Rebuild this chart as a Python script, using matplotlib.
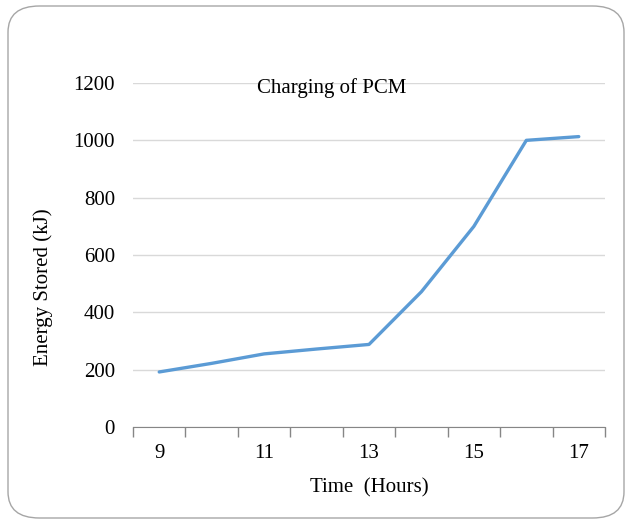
import matplotlib.pyplot as plt
from matplotlib.patches import FancyBboxPatch
import numpy as np

hours = [9, 10, 11, 12, 13, 14, 15, 16, 17]
energy_kj = [192, 222, 255, 272, 288, 472, 700, 1000, 1013]
y_ticks = [0, 200, 400, 600, 800, 1000, 1200]

plt.rcParams['font.family'] = 'Liberation Serif'
fs = 15

fig = plt.figure(figsize=(6.29, 5.24), dpi=100)
ax = fig.add_axes([133 / 629, 1 - 427 / 524, (605 - 133) / 629, (427 - 83) / 524])

# rounded chart border
border = FancyBboxPatch((8 / 629, 6 / 524), 616 / 629, 512 / 524,
                        boxstyle="round,pad=0,rounding_size=0.05",
                        transform=fig.transFigure, facecolor='none',
                        edgecolor='#a6a6a6', linewidth=1.0)
fig.patches.append(border)

# category axis: each hour sits in the middle of its slot
x = np.arange(len(hours))
ax.plot(x, energy_kj, color='#5b9bd5', linewidth=2.4, solid_capstyle='round')

ax.set_xlim(-0.5, len(hours) - 0.5)
ax.set_ylim(0, 1200)
ax.set_yticks(y_ticks)
ax.yaxis.grid(True, color='#d9d9d9', linewidth=1.0)
ax.set_axisbelow(True)

ax.set_xticks(np.arange(-0.5, len(hours), 1.0))
ax.set_xticklabels([])
ax.set_xticks(x[::2], minor=True)
ax.set_xticklabels([str(h) for h in hours[::2]], minor=True)
ax.tick_params(axis='x', which='major', length=7, direction='out', color='#868686', width=1)
ax.tick_params(axis='x', which='minor', length=0, pad=12, labelsize=fs)
ax.tick_params(axis='y', length=0, pad=13, labelsize=fs)

for side in ['top', 'right', 'left']:
    ax.spines[side].set_visible(False)
ax.spines['bottom'].set_color('#868686')

ax.set_xlabel('Time  (Hours)', fontsize=fs, labelpad=11)
ax.set_ylabel('Energy Stored (kJ)', fontsize=fs)
ax.yaxis.set_label_coords(-80 / 472, (427 - 287) / 344)
ax.text(0.421, 1.015, 'Charging of PCM', transform=ax.transAxes,
        ha='center', va='top', fontsize=fs)

fig.savefig('out.png', dpi=100)
